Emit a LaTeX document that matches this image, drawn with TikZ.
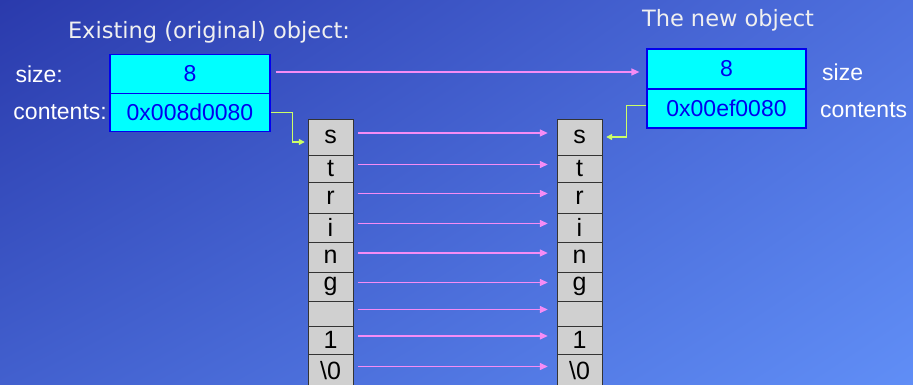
\documentclass[tikz,border=0pt]{standalone}
\usepackage{fontspec}
\setmainfont{Liberation Sans}
\newfontfamily\headfont{DejaVu Sans}
\usetikzlibrary{arrows.meta,positioning,calc,shadings}
\definecolor{bgdark}{RGB}{42,58,172}
\definecolor{bgmidA}{RGB}{78,112,222}
\definecolor{bgmidB}{RGB}{66,96,206}
\definecolor{bglight}{RGB}{96,142,246}
\definecolor{boxcyan}{RGB}{0,255,255}
\definecolor{boxblue}{RGB}{0,0,238}
\definecolor{cellgray}{RGB}{208,208,208}
\definecolor{copypink}{RGB}{245,140,245}
\definecolor{ptrgreen}{RGB}{204,255,102}

\begin{document}
\begin{tikzpicture}[x=1pt, y=-1pt, font=\fontsize{23}{26}\selectfont,
  field/.style={draw=boxblue, line width=1.2pt, fill=boxcyan, text=boxblue,
    minimum width=160pt, inner sep=0pt},
  cell/.style={draw=black!80, fill=cellgray, minimum width=45pt, inner sep=0pt,
    font=\fontsize{25}{28}\selectfont},
  lbl/.style={text=white, inner sep=0pt},
  head/.style={text=white!94!black, inner sep=0pt, font=\headfont\fontsize{22.5}{26}\selectfont},
  copyarrow/.style={draw=copypink, line width=1.4pt, -{Triangle[length=8pt,width=7pt]}},
  ptr/.style={draw=ptrgreen, line width=1.4pt, -{Triangle[length=6pt,width=6pt]}}]
  \useasboundingbox (0,0) rectangle (913,385);
  \shade[upper left=bgdark, upper right=bgmidA, lower left=bgmidB, lower right=bglight]
    (0,0) rectangle (913,385);

  % original object
  \node[head] (oldhead) at (209,32) {Existing (original) object:};
  \node[field, minimum height=39pt] (oldsize) at (190,74) {8};
  \node[field, minimum height=38pt] (oldcont) at (190,112.5) {0x008d0080};
  \node[lbl, anchor=east] (oldsizelbl) at (63,74) {size:};
  \node[lbl, anchor=east] (oldcontlbl) at (107,112.5) {contents:};

  % new object
  \node[head] (newhead) at (728,20) {The new object};
  \node[field, minimum width=159pt, minimum height=40pt] (newsize) at (726.5,69) {8};
  \node[field, minimum width=159pt, minimum height=39pt] (newcont) at (726.5,108.5) {0x00ef0080};
  \node[lbl, anchor=west] (newsizelbl) at (822,72) {size};
  \node[lbl, anchor=west] (newcontlbl) at (820,110) {contents};

  % the two character arrays
  \foreach \col/\cx in {l/330.5, r/579.5} {
    \foreach \ch/\ya/\yb [count=\i] in {s/119/155, t/155/182, r/182/213, i/213/242,
        n/242/272, g/272/301, {}/301/326, 1/326/354, \textbackslash0/354/387} {
      \node[cell, minimum height={(\yb-\ya)*1pt}] (\col\i) at (\cx,{(\ya+\yb)/2}) {\ch};
    }
  }

  % copies
  \foreach \i in {1,...,9}
    \draw[copyarrow, shorten <=5pt, shorten >=9pt] ([yshift=4pt]l\i.east) -- ([yshift=4pt]r\i.west);
  \draw[copyarrow, shorten <=5pt, shorten >=7pt] ([yshift=2pt]oldsize.east) -- ([yshift=2pt]oldsize.east -| newsize.west);

  % pointers
  \draw[ptr, shorten >=3pt] (oldcont.east) -- ++(22,0) |- ([yshift=-5pt]l1.west);
  \draw[ptr, shorten >=4pt] ([yshift=3pt]newcont.west) -- ++(-20,0) |- (r1.east);
\end{tikzpicture}
\end{document}
